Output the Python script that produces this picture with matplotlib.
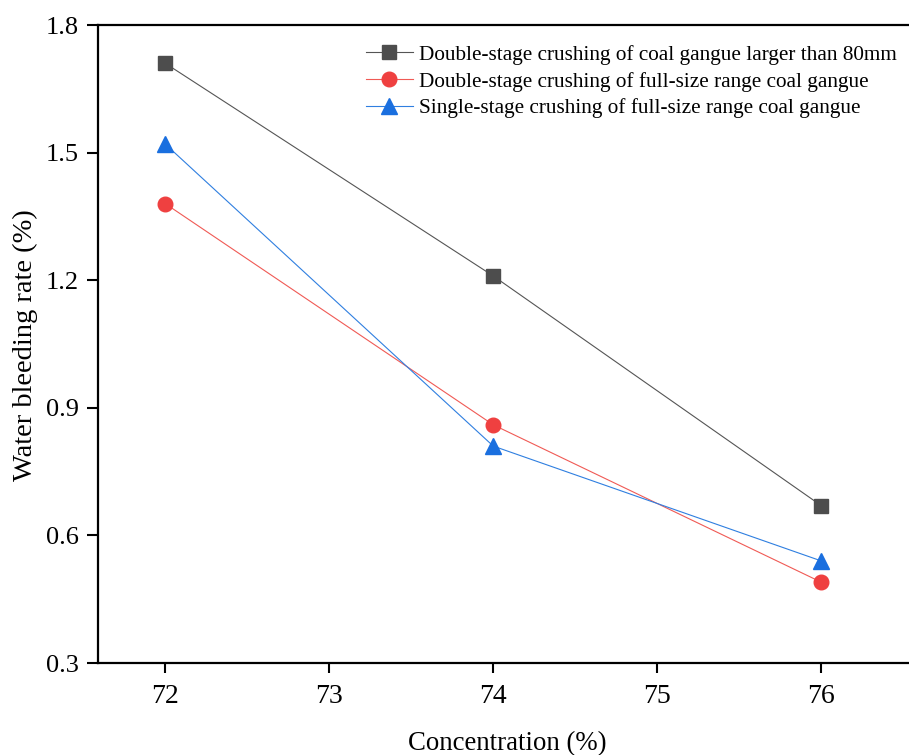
import numpy as np
import matplotlib
matplotlib.use("Agg")
import matplotlib.pyplot as plt

plt.rcParams['font.family'] = ['Liberation Serif', 'DejaVu Serif']

# concentration (%) vs water bleeding rate (%)
conc = [72, 74, 76]
double_80mm = [1.71, 1.21, 0.67]
double_full = [1.38, 0.86, 0.49]
single_full = [1.52, 0.81, 0.54]
labels = ["Double-stage crushing of coal gangue larger than 80mm",
          "Double-stage crushing of full-size range coal gangue",
          "Single-stage crushing of full-size range coal gangue"]
xticks = [72, 73, 74, 75, 76]
yticks = [0.3, 0.6, 0.9, 1.2, 1.5, 1.8]

W, H = 909, 755
fig = plt.figure(figsize=(W / 100, H / 100), dpi=100)
# axes runs past the right edge of the picture (the source is cropped there)
left, bottom, top, right = 98, 663, 25, 927
ax = fig.add_axes([left / W, 1 - bottom / H, (right - left) / W, (bottom - top) / H])

ax.plot(conc, double_80mm, color="#555555", lw=0.8, marker="s", ms=10,
        mfc="#4d4d4d", mec="#4d4d4d", label=labels[0])
ax.plot(conc, double_full, color="#f05a55", lw=0.8, marker="o", ms=10.5,
        mfc="#ef4040", mec="#ef4040", label=labels[1])
ax.plot(conc, single_full, color="#2f7fe0", lw=0.8, marker="^", ms=11,
        mfc="#1a6fdf", mec="#1a6fdf", label=labels[2])

ax.set_xlim(71.59, 71.59 + (right - left) / 164)
ax.set_ylim(0.3, 1.8)
ax.set_xticks(xticks)
ax.set_yticks(yticks)
ax.set_yticklabels(["%.1f" % v for v in yticks])
ax.tick_params(axis="x", direction="out", length=7, width=1.5, labelsize=20, pad=8)
ax.tick_params(axis="y", direction="out", length=8, width=1.5, labelsize=19, pad=6)
for s in ax.spines.values():
    s.set_linewidth(1.6)
ax.spines["right"].set_visible(False)

fig.text(507 / W, 1 - 744 / H, "Concentration (%)", ha="center", va="center", fontsize=19.3)
fig.text(25 / W, 1 - 345 / H, "Water bleeding rate (%)", ha="center", va="center",
         rotation=90, fontsize=20.5)

ax.legend(loc="upper left", bbox_to_anchor=(366 / W, 1 - 45 / H),
          bbox_transform=fig.transFigure, frameon=False, fontsize=15.3,
          borderpad=0, borderaxespad=0, handlelength=2.2, handletextpad=0.3,
          labelspacing=0.32)

fig.savefig("out.png", dpi=100)
